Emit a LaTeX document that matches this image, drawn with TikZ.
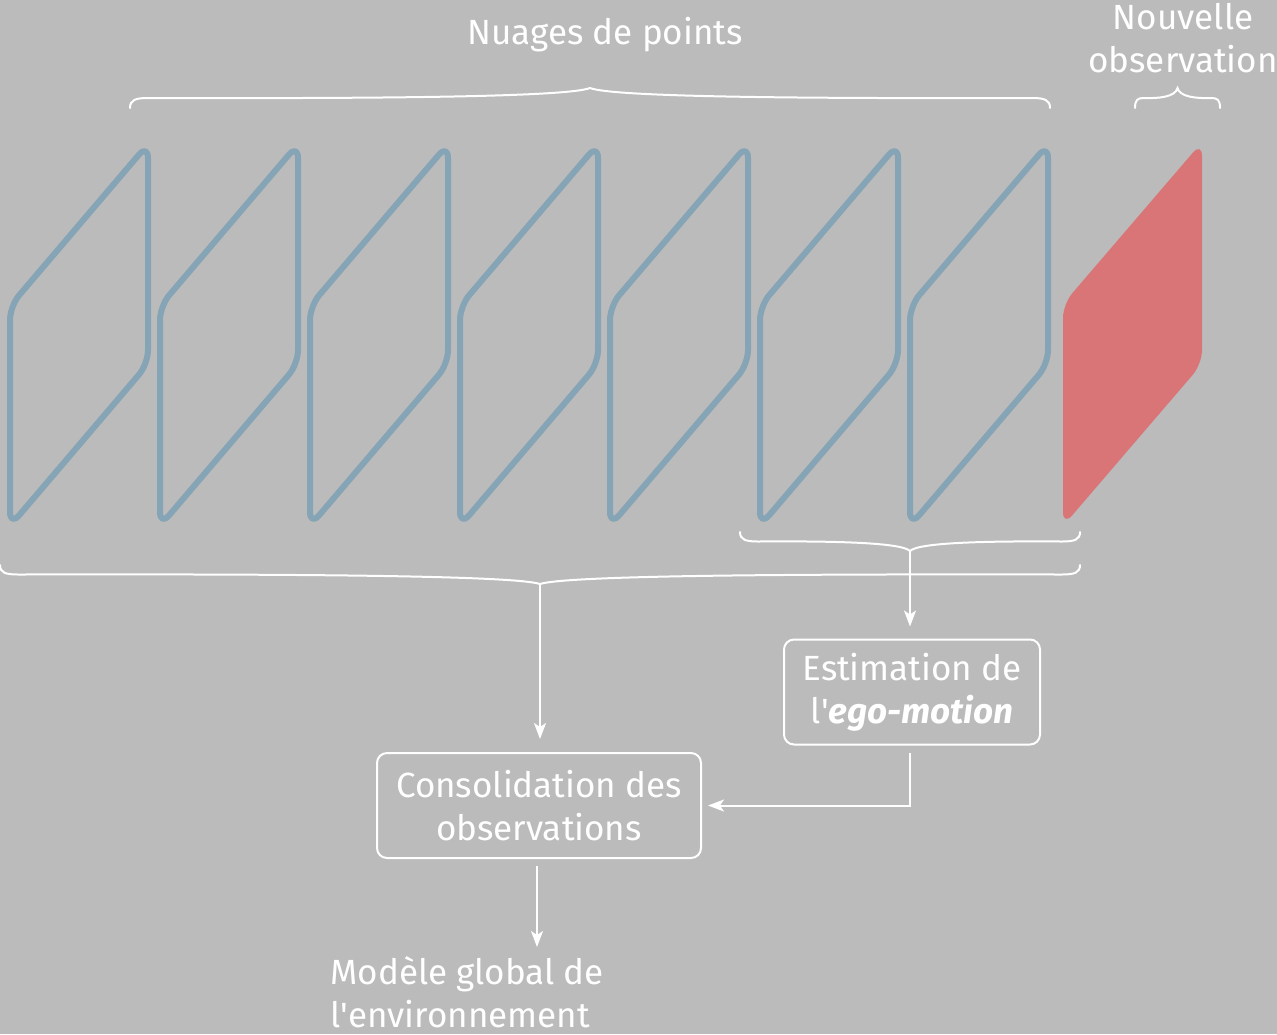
\documentclass[tikz,border=0pt]{standalone}
\usepackage{fontspec}
\setmainfont{Fira Sans}
\usetikzlibrary{arrows.meta,calc}
\definecolor{bg}{HTML}{BBBBBB}
\definecolor{planecol}{HTML}{85A4B5}
\definecolor{newobs}{HTML}{D97577}
% curly brace: x1, x2, y of the ends, y of the tip
\newcommand\mybrace[4]{%
  \pgfmathsetmacro\bxc{(#1+#2)/2}%
  \pgfmathsetmacro\bL{(#2-#1)/2}%
  \pgfmathsetmacro\bA{#4-#3}%
  \pgfmathsetmacro\bc{min(18,0.2*\bL)}%
  \draw[bracestyle] (#1,#3)
    .. controls (#1,{#3+0.4*\bA}) and ({#1+0.3*\bc},{#3+0.5*\bA}) .. ({#1+\bc},{#3+0.5*\bA})
    .. controls ({\bxc-0.45*\bL},{#3+0.47*\bA}) and ({\bxc-0.05*\bL},{#3+0.55*\bA}) .. (\bxc,#4)
    .. controls ({\bxc+0.05*\bL},{#3+0.55*\bA}) and ({\bxc+0.45*\bL},{#3+0.47*\bA}) .. ({#2-\bc},{#3+0.5*\bA})
    .. controls ({#2-0.3*\bc},{#3+0.5*\bA}) and (#2,{#3+0.4*\bA}) .. (#2,#3);
}
\begin{document}
\begin{tikzpicture}[x=0.5pt,y=-0.5pt,
  planestyle/.style={draw=planecol,line width=3pt,rounded corners=7pt,line join=round},
  bracestyle/.style={draw=white,line width=1pt,line cap=round},
  box/.style={draw=white,line width=1pt,rounded corners=5pt,text=white,align=center,inner sep=0pt},
  lbl/.style={text=white,align=center,inner sep=0pt},
  arr/.style={draw=white,line width=1pt,-{Stealth[length=8pt,width=6pt,inset=2pt]}},
  font=\fontsize{17.5}{21.5}\selectfont]
\fill[bg] (0,0) rectangle (1277,1034);
\useasboundingbox (0,0) rectangle (1277,1034);

% point clouds
\foreach \i in {10,160,310,460,610,760,910}
  \draw[planestyle] (\i,526) -- (\i,306) -- ({\i+138},144) -- ({\i+138},364) -- cycle;
\fill[newobs,rounded corners=7pt] (1063,526) -- (1063,304) -- (1202,142) -- (1202,364) -- cycle;

% braces
\mybrace{130}{1050}{108}{88}
\mybrace{1135}{1220}{108}{88}
\mybrace{0}{1080}{565}{584}
\mybrace{740}{1080}{532}{551}
\coordinate (tipBig) at (540,584);
\coordinate (tipSmall) at (910,551);

% labels
\node[lbl] (nuages) at (605,35) {Nuages de points};
\node[lbl] (nouvelle) at (1183,38) {Nouvelle\\observation};

% boxes
\node[box, minimum width=128pt, minimum height=52.5pt] (ego) at (912,692)
  {Estimation de\\l\textquotesingle\textbf{\textit{ego-motion}}};
\node[box, minimum width=162pt, minimum height=52.5pt] (cons) at (539,805.5)
  {Consolidation des\\observations};
\node[lbl, align=left, anchor=north west] (model) at (330,956)
  {Modèle global de\\l\textquotesingle environnement};
\coordinate (modelIn) at (537,947);

% connectors
\draw[arr, shorten >=6pt] (tipSmall) -- (tipSmall |- ego.north);
\draw[arr, shorten <=3.5pt, shorten >=3pt] (ego.south -| tipSmall) |- (cons.east);
\draw[arr, shorten >=6.5pt] (tipBig) -- (tipBig |- cons.north);
\draw[arr, shorten <=3.5pt] (cons.south -| modelIn) -- (modelIn);
\end{tikzpicture}
\end{document}
